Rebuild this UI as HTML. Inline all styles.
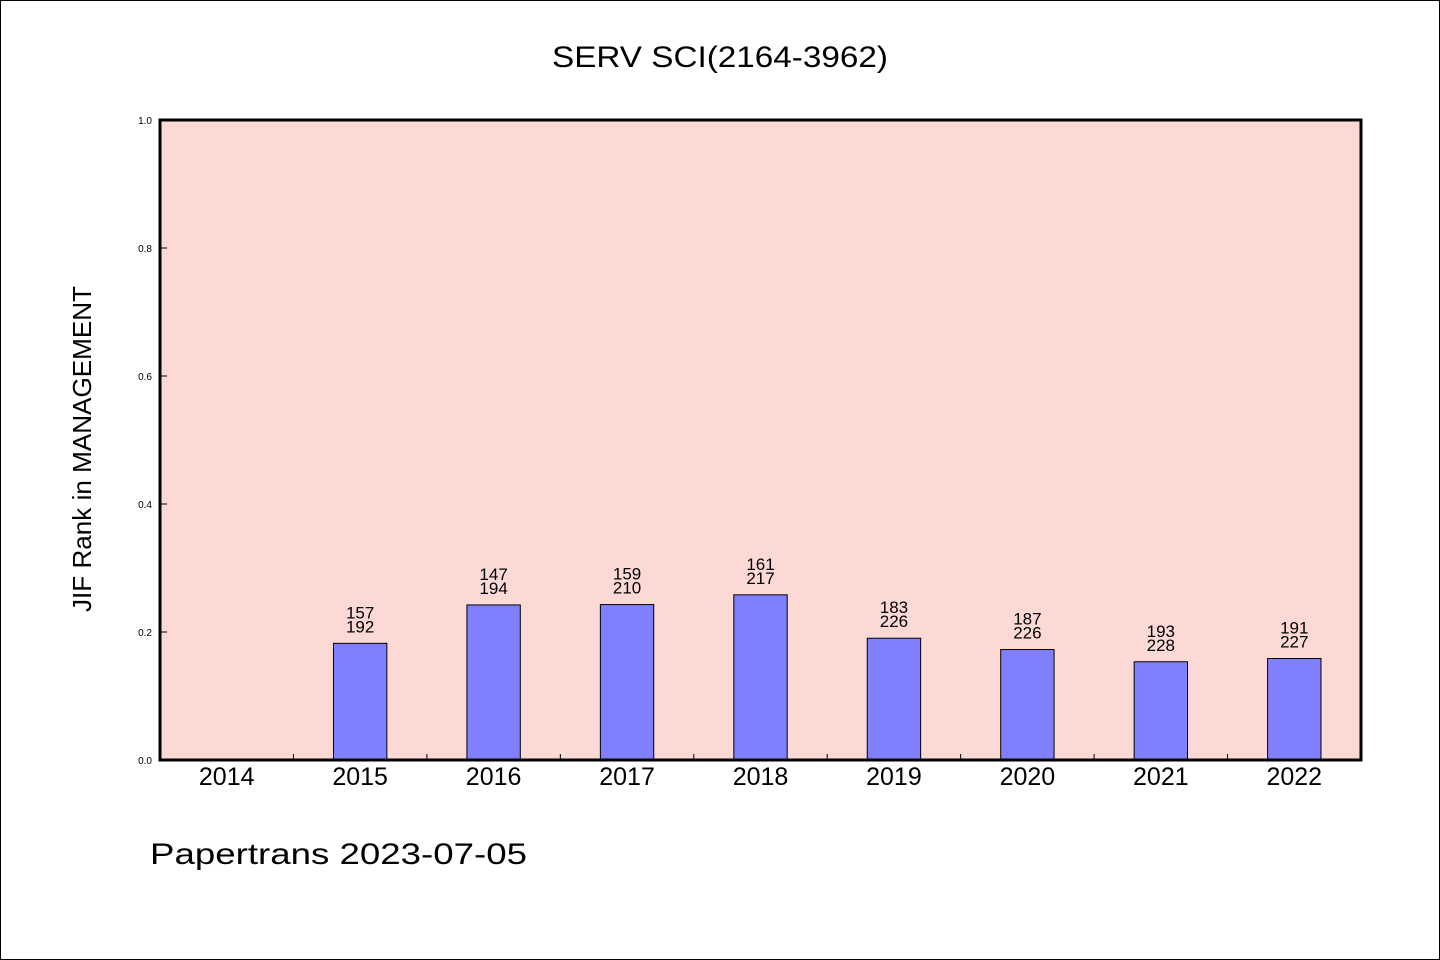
<!DOCTYPE html>
<html><head><meta charset="utf-8"><style>
html,body{margin:0;padding:0;background:#fff}
svg{display:block}
text{font-family:"WenQuanYi Zen Hei","Liberation Sans",sans-serif;fill:#000}
</style></head><body>
<svg id="chart" width="1440" height="960" viewBox="0 0 1440 960" xmlns="http://www.w3.org/2000/svg">
<rect x="0.5" y="0.5" width="1439" height="959" fill="#fff" stroke="#000" stroke-width="1"/>
<text x="552" y="67" font-size="30" textLength="336" lengthAdjust="spacingAndGlyphs">SERV SCI(2164-3962)</text>
<rect x="160" y="120" width="1201" height="640" fill="#fdd9d6"/>
<g id="yaxis"></g>
<g id="xaxis"></g>
<g id="bars"></g>
<rect x="160" y="120" width="1201" height="640" fill="none" stroke="#000" stroke-width="3"/>
<text transform="translate(91,612) rotate(-90)" font-size="26" textLength="326" lengthAdjust="spacingAndGlyphs">JIF Rank in MANAGEMENT</text>
<text x="150" y="864" font-size="30" textLength="377" lengthAdjust="spacingAndGlyphs">Papertrans 2023-07-05</text>
</svg>
<script>
const categories=["2014","2015","2016","2017","2018","2019","2020","2021","2022"];
const ranks=[null,157,147,159,161,183,187,193,191];
const totals=[null,192,194,210,217,226,226,228,227];
const yTicks=[0,0.2,0.4,0.6,0.8,1.0];
const NS="http://www.w3.org/2000/svg";
const X0=160,X1=1361,Y0=760,Y1=120;
const band=(X1-X0)/categories.length;
function xs(i){return X0+band*(i+0.5);}
function ys(v){return Y0-(Y0-Y1)*v;}
function mk(tag,attrs,parent){const e=document.createElementNS(NS,tag);for(const k in attrs)e.setAttribute(k,attrs[k]);parent.appendChild(e);return e;}
const ya=document.getElementById('yaxis'),xa=document.getElementById('xaxis'),bg=document.getElementById('bars');
yTicks.forEach(t=>{
  const l=mk('line',{x1:X0,x2:X0+7,y1:ys(t),y2:ys(t),stroke:'#000','stroke-width':1},ya);
  
  
  const tx=mk('text',{x:152,y:ys(t)+4,'font-size':10,'text-anchor':'end'},ya);
  
  
  tx.textContent=t.toFixed(1);
});
categories.forEach((c,i)=>{
  if(i>0){const l=mk('line',{x1:X0+band*i,x2:X0+band*i,y1:Y0,y2:Y0-6,stroke:'#000','stroke-width':1},xa);
  
  }
  const tx=mk('text',{x:xs(i),y:785,'font-size':25,'text-anchor':'middle'},xa);
  
  
  tx.textContent=c;
  if(ranks[i]==null)return;
  const v=1-ranks[i]/totals[i];
  const w=band*0.4;
  const r=mk('rect',{x:xs(i)-w/2,y:ys(v),width:w,height:Y0-ys(v),fill:'#8080ff',stroke:'#000','stroke-width':1},bg);
  
  
  const t1=mk('text',{x:xs(i),y:ys(v)-25,'font-size':17,'text-anchor':'middle'},bg);
  
  
  t1.textContent=ranks[i];
  const t2=mk('text',{x:xs(i),y:ys(v)-11,'font-size':17,'text-anchor':'middle'},bg);
  
  
  t2.textContent=totals[i];
});
</script>
</body></html>
